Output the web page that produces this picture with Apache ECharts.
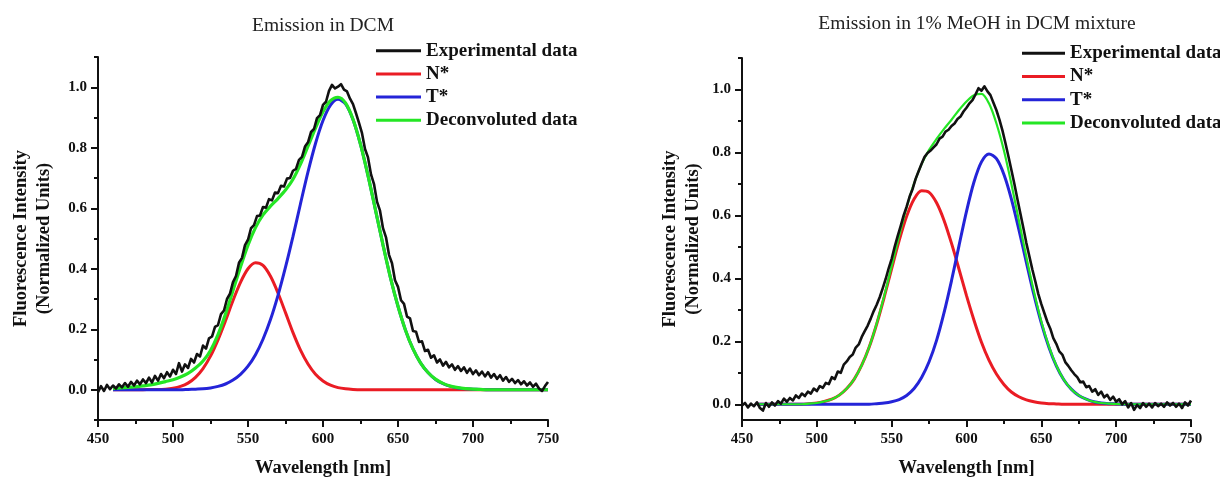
<!DOCTYPE html>
<html><head><meta charset="utf-8">
<script src="https://cdn.jsdelivr.net/npm/echarts@6/dist/echarts.min.js"></script>
<style>html,body{margin:0;padding:0;background:#fff}#c{width:1220px;height:480px}</style>
</head><body><div id="c"></div>
<script>
// ---------- text ----------
const titles = ['Emission in DCM', 'Emission in 1% MeOH in DCM mixture'];
const seriesNames = ['Experimental data', 'N*', 'T*', 'Deconvoluted data'];
const xName = 'Wavelength [nm]';
const yName = 'Fluorescence Intensity\n(Normalized Units)';

// ---------- ticks ----------
const xMin = 450, xMax = 750, xInterval = 50;
const yMajorTicks = [0, 0.2, 0.4, 0.6, 0.8, 1.0];
const yMinorTicksDCM = [-0.1, 0.1, 0.3, 0.5, 0.7, 0.9, 1.1];
const yMinorTicksMeOH = [0.1, 0.3, 0.5, 0.7, 0.9, 1.1];
const yRangeDCM = [-0.1, 1.1];
const yRangeMeOH = [-0.05, 1.1];

// ---------- sampling (nm) ----------
const expStart = 450, expStep = 2;   // experimental spectra: 450..750 every 2 nm
const fitStart = 460, fitStep = 5;   // fitted curves: 460..750 every 5 nm

// ---------- Emission in DCM ----------
const expDCM = [
 -0.008, 0.012, -0.004, 0.016, 0.002, 0.014, 0.004, 0.018, 0.008, 0.022,
 0.010, 0.026, 0.014, 0.030, 0.018, 0.034, 0.022, 0.040, 0.024, 0.046,
 0.030, 0.052, 0.038, 0.058, 0.044, 0.066, 0.052, 0.088, 0.060, 0.084,
 0.072, 0.102, 0.090, 0.118, 0.110, 0.146, 0.136, 0.170, 0.176, 0.208,
 0.214, 0.250, 0.262, 0.300, 0.318, 0.356, 0.376, 0.420, 0.436, 0.478,
 0.496, 0.534, 0.544, 0.574, 0.576, 0.604, 0.602, 0.630, 0.626, 0.652,
 0.650, 0.674, 0.672, 0.698, 0.700, 0.724, 0.730, 0.760, 0.770, 0.804,
 0.818, 0.852, 0.862, 0.898, 0.908, 0.942, 0.952, 0.988, 1.008, 0.996,
 1.002, 1.010, 0.992, 0.986, 0.962, 0.944, 0.914, 0.882, 0.848, 0.796,
 0.768, 0.712, 0.680, 0.622, 0.592, 0.534, 0.504, 0.446, 0.418, 0.362,
 0.340, 0.296, 0.284, 0.242, 0.236, 0.194, 0.192, 0.158, 0.160, 0.128,
 0.132, 0.106, 0.114, 0.090, 0.100, 0.080, 0.092, 0.074, 0.084, 0.066,
 0.078, 0.062, 0.074, 0.056, 0.070, 0.052, 0.064, 0.048, 0.060, 0.044,
 0.058, 0.040, 0.052, 0.036, 0.048, 0.030, 0.042, 0.026, 0.036, 0.022,
 0.032, 0.018, 0.028, 0.014, 0.024, 0.010, 0.020, 0.004, -0.004, 0.012,
 0.026
];
const nDCM = [
 0, 0, 0, 0, 0, 0.001, 0.001, 0.002, 0.005, 0.011,
 0.022, 0.041, 0.070, 0.111, 0.165, 0.228, 0.295, 0.355, 0.400, 0.420,
 0.411, 0.375, 0.320, 0.255, 0.189, 0.131, 0.085, 0.051, 0.029, 0.015,
 0.007, 0.003, 0.001, 0, 0, 0, 0, 0, 0, 0,
 0, 0, 0, 0, 0, 0, 0, 0, 0, 0,
 0, 0, 0, 0, 0, 0, 0, 0, 0
];
const tDCM = [
 0, 0, 0, 0, 0, 0, 0, 0, 0, 0,
 0.001, 0.002, 0.003, 0.006, 0.011, 0.019, 0.032, 0.051, 0.078, 0.116,
 0.167, 0.232, 0.312, 0.405, 0.507, 0.615, 0.720, 0.814, 0.890, 0.941,
 0.960, 0.945, 0.893, 0.811, 0.708, 0.594, 0.479, 0.370, 0.276, 0.197,
 0.135, 0.089, 0.057, 0.034, 0.020, 0.011, 0.006, 0.003, 0.002, 0.001,
 0, 0, 0, 0, 0, 0, 0, 0, 0
];
const sumDCM = [
 0.004, 0.006, 0.008, 0.010, 0.013, 0.016, 0.021, 0.027, 0.033, 0.042,
 0.054, 0.072, 0.095, 0.130, 0.182, 0.250, 0.328, 0.406, 0.478, 0.536,
 0.578, 0.607, 0.632, 0.660, 0.696, 0.746, 0.805, 0.865, 0.919, 0.956,
 0.967, 0.948, 0.894, 0.811, 0.708, 0.594, 0.479, 0.370, 0.276, 0.197,
 0.135, 0.089, 0.057, 0.035, 0.021, 0.012, 0.007, 0.004, 0.002, 0.001,
 0, 0, 0, 0, 0, 0, 0, 0, 0
];

// ---------- Emission in 1% MeOH in DCM ----------
const expMeOH = [
 -0.004, 0.004, -0.010, 0.002, -0.006, 0.006, -0.012, -0.020, 0.004, -0.008,
 0.006, -0.004, 0.010, 0.002, 0.018, 0.008, 0.020, 0.012, 0.028, 0.020,
 0.034, 0.026, 0.040, 0.034, 0.050, 0.042, 0.058, 0.052, 0.068, 0.064,
 0.086, 0.080, 0.104, 0.100, 0.126, 0.136, 0.150, 0.158, 0.180, 0.190,
 0.214, 0.232, 0.250, 0.272, 0.296, 0.316, 0.340, 0.368, 0.398, 0.432,
 0.462, 0.500, 0.534, 0.566, 0.600, 0.628, 0.660, 0.684, 0.716, 0.740,
 0.764, 0.786, 0.798, 0.806, 0.816, 0.826, 0.844, 0.850, 0.866, 0.872,
 0.884, 0.892, 0.906, 0.914, 0.930, 0.942, 0.956, 0.966, 0.984, 1.004,
 0.996, 1.010, 0.994, 0.982, 0.958, 0.934, 0.904, 0.870, 0.830, 0.788,
 0.744, 0.700, 0.652, 0.606, 0.560, 0.512, 0.470, 0.428, 0.390, 0.350,
 0.318, 0.290, 0.262, 0.240, 0.210, 0.192, 0.168, 0.158, 0.134, 0.122,
 0.108, 0.096, 0.086, 0.070, 0.072, 0.054, 0.058, 0.040, 0.048, 0.030,
 0.040, 0.022, 0.030, 0.014, 0.024, 0.008, 0.016, 0.000, 0.010, -0.010,
 0.004, -0.018, -0.002, -0.012, 0.004, -0.008, 0.002, -0.010, 0.004, -0.006,
 0.002, -0.008, 0.006, -0.004, 0.004, -0.008, 0.002, -0.012, 0.006, -0.004,
 0.012
];
const nMeOH = [
 0, 0, 0, 0, 0, 0, 0, 0.002, 0.004, 0.009,
 0.016, 0.029, 0.050, 0.080, 0.124, 0.182, 0.255, 0.340, 0.431, 0.520,
 0.597, 0.652, 0.678, 0.673, 0.640, 0.584, 0.511, 0.429, 0.345, 0.267,
 0.197, 0.140, 0.096, 0.063, 0.039, 0.024, 0.014, 0.008, 0.004, 0.002,
 0.001, 0, 0, 0, 0, 0, 0, 0, 0, 0,
 0, 0, 0, 0, 0, 0, 0, 0, 0
];
const tMeOH = [
 0, 0, 0, 0, 0, 0, 0, 0, 0, 0,
 0, 0, 0, 0, 0, 0, 0.002, 0.004, 0.008, 0.015,
 0.028, 0.050, 0.085, 0.135, 0.203, 0.291, 0.393, 0.504, 0.613, 0.706,
 0.770, 0.795, 0.780, 0.730, 0.652, 0.555, 0.451, 0.349, 0.258, 0.182,
 0.122, 0.078, 0.048, 0.028, 0.016, 0.008, 0.004, 0.002, 0.001, 0,
 0, 0, 0, 0, 0, 0, 0, 0, 0
];
const sumMeOH = [
 0, 0, 0, 0, 0, 0, 0, 0.002, 0.004, 0.009,
 0.016, 0.029, 0.050, 0.080, 0.124, 0.182, 0.257, 0.344, 0.439, 0.535,
 0.625, 0.702, 0.763, 0.808, 0.843, 0.875, 0.904, 0.935, 0.962, 0.982,
 0.986, 0.956, 0.892, 0.806, 0.700, 0.584, 0.468, 0.359, 0.263, 0.185,
 0.123, 0.078, 0.048, 0.028, 0.016, 0.008, 0.004, 0.002, 0.001, 0,
 0, 0, 0, 0, 0, 0, 0, 0, 0
];

// ---------- style ----------
const FONT = "'Liberation Serif', 'Times New Roman', 'DejaVu Serif', serif";
const COL = { exp: '#111111', n: '#ea1c24', t: '#2424d8', sum: '#24e624' };
const INK = '#111111';

const pairs = (arr, start, step) => arr.map((v, i) => [start + i * step, v]);

const grids = [
  { left: 98, top: 57, width: 450, height: 363 },
  { left: 742, top: 58, width: 449, height: 362 }
];

function xAxisFor(gi) {
  return {
    type: 'value', gridIndex: gi, position: 'bottom', min: xMin, max: xMax, interval: xInterval,
    name: xName, nameLocation: 'middle', nameGap: 39,
    nameTextStyle: { fontFamily: FONT, fontWeight: 'bold', fontSize: 18.5, color: INK },
    axisLine: { show: true, onZero: false, lineStyle: { color: INK, width: 2 } },
    axisTick: { show: true, inside: false, length: 7, lineStyle: { color: INK, width: 2 } },
    minorTick: { show: true, splitNumber: 2, length: 4, lineStyle: { color: INK, width: 2 } },
    axisLabel: { margin: 12, fontFamily: FONT, fontWeight: 'bold', fontSize: 15, color: INK },
    splitLine: { show: false }, minorSplitLine: { show: false }
  };
}
function yAxesFor(gi, range, minor, nameGap) {
  return [{
    type: 'value', gridIndex: gi, position: 'left', offset: 0, min: range[0], max: range[1],
    name: yName, nameLocation: 'middle', nameGap: nameGap,
    nameTextStyle: { fontFamily: FONT, fontWeight: 'bold', fontSize: 18.5, color: INK, lineHeight: 23 },
    axisLine: { show: true, onZero: false, lineStyle: { color: INK, width: 2 } },
    axisTick: { show: true, inside: false, length: 7, customValues: yMajorTicks, lineStyle: { color: INK, width: 2 } },
    axisLabel: { margin: 11, customValues: yMajorTicks, formatter: v => v.toFixed(1),
      fontFamily: FONT, fontWeight: 'bold', fontSize: 15, color: INK },
    splitLine: { show: false }
  }, {
    type: 'value', gridIndex: gi, position: 'left', offset: 0, min: range[0], max: range[1],
    axisLine: { show: false, onZero: false },
    axisTick: { show: true, inside: false, length: 4, customValues: minor, lineStyle: { color: INK, width: 2 } },
    axisLabel: { show: false },
    splitLine: { show: false }
  }];
}

function seriesFor(gi, exp, n, t, sum, sumWidth) {
  const yi = gi * 2;
  const base = { type: 'line', xAxisIndex: gi, yAxisIndex: yi, symbol: 'none', showSymbol: false, silent: true };
  return [
    Object.assign({}, base, { name: seriesNames[1], data: pairs(n, fitStart, fitStep), smooth: 0.3,
      color: COL.n, lineStyle: { color: COL.n, width: 3 } }),
    Object.assign({}, base, { name: seriesNames[2], data: pairs(t, fitStart, fitStep), smooth: 0.3,
      color: COL.t, lineStyle: { color: COL.t, width: 3 } }),
    Object.assign({}, base, { name: seriesNames[3], data: pairs(sum, fitStart, fitStep), smooth: 0.3,
      color: COL.sum, lineStyle: { color: COL.sum, width: sumWidth } }),
    Object.assign({}, base, { name: seriesNames[0], data: pairs(exp, expStart, expStep),
      color: COL.exp, lineStyle: { color: COL.exp, width: 2.6, join: 'round' } })
  ];
}

function legendAt(left, top) {
  return {
    left: left, top: top, orient: 'vertical', padding: 0, selectedMode: false,
    icon: 'rect', itemWidth: left > 600 ? 43 : 45, itemHeight: 3, itemGap: 3.2,
    data: seriesNames,
    textStyle: { fontFamily: FONT, fontWeight: 'bold', fontSize: 19, color: INK, lineHeight: 20 }
  };
}

const option = {
  animation: false,
  backgroundColor: '#ffffff',
  title: [
    { text: titles[0], left: 323, top: 16, padding: 0, textAlign: 'center',
      textStyle: { fontFamily: FONT, fontWeight: 'normal', fontSize: 19.5, color: '#222' } },
    { text: titles[1], left: 977, top: 14, padding: 0, textAlign: 'center',
      textStyle: { fontFamily: FONT, fontWeight: 'normal', fontSize: 19.5, color: '#222' } }
  ],
  legend: [legendAt(376, 40.7), legendAt(1022, 43.3)],
  grid: grids.map(g => Object.assign({ containLabel: false, outerBoundsMode: 'none' }, g)),
  xAxis: [xAxisFor(0), xAxisFor(1)],
  yAxis: [].concat(yAxesFor(0, yRangeDCM, yMinorTicksDCM, 42), yAxesFor(1, yRangeMeOH, yMinorTicksMeOH, 37)),
  series: [].concat(
    seriesFor(0, expDCM, nDCM, tDCM, sumDCM, 3.2),
    seriesFor(1, expMeOH, nMeOH, tMeOH, sumMeOH, 2.2)
  )
};

const chart = echarts.init(document.getElementById('c'), null, { renderer: 'canvas' });
chart.setOption(option);
</script>
</body></html>
